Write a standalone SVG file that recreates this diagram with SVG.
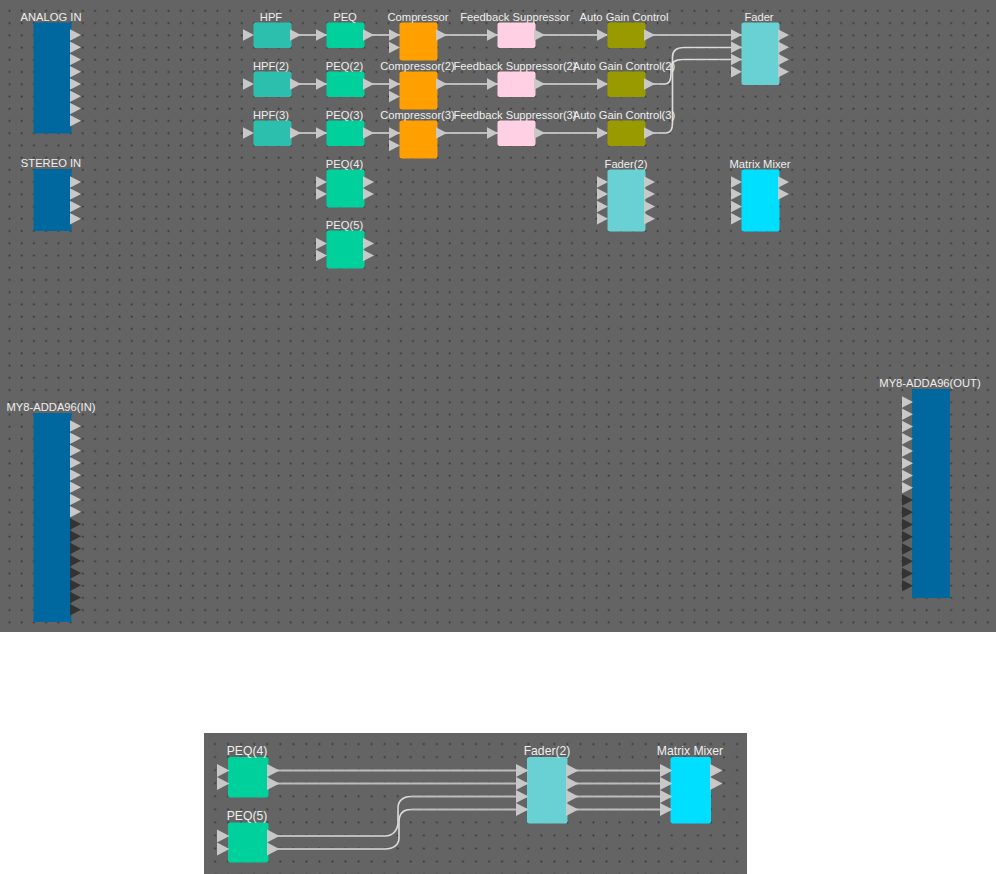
<svg xmlns="http://www.w3.org/2000/svg" width="996" height="874" viewBox="0 0 996 874">
<style>
.t{font-family:"Liberation Sans",Arial,sans-serif;font-size:11.2px;fill:#eeeeee;text-anchor:middle}
.b{font-size:12.2px}
.w{fill:none;stroke:#bdbdbd;stroke-width:2.2}
.c{fill:none;stroke:#dcdcdc;stroke-width:1.6}
.blue{fill:#00689f}.hpf{fill:#2dbfad}.peq{fill:#00d09b}.cmp{fill:#ff9f00}.fs{fill:#ffcfe3}.agc{fill:#999900}.fad{fill:#69d1d3}.mix{fill:#00dfff}
</style>
<defs>
<pattern id="d1" width="12.23" height="12.23" patternUnits="userSpaceOnUse" x="3.2" y="4.6"><rect x="5.4" y="5.4" width="1.7" height="1.7" fill="#333333"/></pattern>
<pattern id="d2" width="13.05" height="13.05" patternUnits="userSpaceOnUse" x="209" y="738"><rect x="5.2" y="5.2" width="1.7" height="1.7" fill="#333333"/></pattern>
<path id="p" d="M0-5.800L11 0L0 5.800Z" fill="#c8c8c8"/>
<path id="k" d="M0-5.800L11 0L0 5.800Z" fill="#333333"/>
<path id="q" d="M0-6.500L12.500 0L0 6.500Z" fill="#c8c8c8"/>
</defs>
<rect width="996" height="874" fill="#ffffff"/>
<rect width="996" height="632" fill="#646464"/>
<rect width="996" height="632" fill="url(#d1)"/>
<rect x="204" y="733" width="543" height="141" fill="#646464"/>
<rect x="204" y="733" width="543" height="141" fill="url(#d2)"/>
<g id="connectors">
<path class="w" d="M291 35H327M364 35H400M364 84H400M364 133H400M291 84H327M291 133H327M437 35H498M437 84H498M437 133H498M535 35H607M535 84H607M535 133H607M645 35H742"/>
<path class="c" d="M645 84H665C670 84 671 80 671 74V68C671 62 675 59.500 683 59.500H742"/>
<path class="c" d="M645 133H666C671 133 672.500 129 672.500 123V57C672.500 51 676 47.500 684 47.500H742"/>
<path class="w" d="M268 770.500H527M268 783.500H527M567 770.500H671M567 783.500H671M567 796.500H671M567 809.500H671M411 796.500H527M411 809.500H527M268 836H385M268 849H385"/>
<path class="c" d="M385 836C393 836 398 830 398 822V808C398 801 403 796.500 411 796.500"/>
<path class="c" d="M385 849C393 849 399 845 399 838V822C399 814 403 809.500 411 809.500"/>
</g>
<g id="analog-in"><rect class="blue" x="33.500" y="22.500" width="38" height="111"/><text class="t" x="51" y="21">ANALOG IN</text>
<use href="#p" x="70" y="35"/><use href="#p" x="70" y="47.300"/><use href="#p" x="70" y="59.500"/><use href="#p" x="70" y="71.800"/><use href="#p" x="70" y="84"/><use href="#p" x="70" y="96.300"/><use href="#p" x="70" y="108.500"/><use href="#p" x="70" y="120.800"/></g>
<g id="stereo-in"><rect class="blue" x="33.500" y="169" width="38" height="62"/><text class="t" x="51" y="167">STEREO IN</text>
<use href="#p" x="70" y="182"/><use href="#p" x="70" y="194"/><use href="#p" x="70" y="206.500"/><use href="#p" x="70" y="218.700"/></g>
<g id="hpf"><rect class="hpf" x="253.500" y="22.500" width="38" height="25.500" rx="2"/><text class="t" x="271" y="21">HPF</text><use href="#p" x="243" y="35"/><use href="#p" x="290" y="35"/></g>
<g id="hpf2"><rect class="hpf" x="253.500" y="71.500" width="38" height="25.500" rx="2"/><text class="t" x="271" y="70">HPF(2)</text><use href="#p" x="243" y="84"/><use href="#p" x="290" y="84"/></g>
<g id="hpf3"><rect class="hpf" x="253.500" y="120.500" width="38" height="25.500" rx="2"/><text class="t" x="271" y="119">HPF(3)</text><use href="#p" x="243" y="133"/><use href="#p" x="290" y="133"/></g>
<g id="peq"><rect class="peq" x="326.500" y="22.500" width="38" height="25.500" rx="2"/><text class="t" x="345" y="21">PEQ</text><use href="#p" x="316" y="35"/><use href="#p" x="363" y="35"/></g>
<g id="peq2"><rect class="peq" x="326.500" y="71.500" width="38" height="25.500" rx="2"/><text class="t" x="344.500" y="70">PEQ(2)</text><use href="#p" x="316" y="84"/><use href="#p" x="363" y="84"/></g>
<g id="peq3"><rect class="peq" x="326.500" y="120.500" width="38" height="25.500" rx="2"/><text class="t" x="344.500" y="119">PEQ(3)</text><use href="#p" x="316" y="133"/><use href="#p" x="363" y="133"/></g>
<g id="peq4"><rect class="peq" x="326.500" y="169.500" width="38" height="38" rx="2"/><text class="t" x="344.500" y="168">PEQ(4)</text><use href="#p" x="316" y="182"/><use href="#p" x="316" y="194"/><use href="#p" x="363" y="182"/><use href="#p" x="363" y="194"/></g>
<g id="peq5"><rect class="peq" x="326.500" y="230.500" width="38" height="38" rx="2"/><text class="t" x="344.500" y="229">PEQ(5)</text><use href="#p" x="316" y="243.500"/><use href="#p" x="316" y="255.500"/><use href="#p" x="363" y="243.500"/><use href="#p" x="363" y="255.500"/></g>
<g id="compressor"><rect class="cmp" x="399.500" y="22.500" width="38" height="38" rx="2"/><text class="t" x="418" y="21">Compressor</text><use href="#p" x="389" y="35"/><use href="#p" x="389" y="47.500"/><use href="#p" x="436" y="35"/></g>
<g id="compressor2"><rect class="cmp" x="399.500" y="71.500" width="38" height="38" rx="2"/><text class="t" x="417.500" y="70">Compressor(2)</text><use href="#p" x="389" y="84"/><use href="#p" x="389" y="96.500"/><use href="#p" x="436" y="84"/></g>
<g id="compressor3"><rect class="cmp" x="399.500" y="120.500" width="38" height="38" rx="2"/><text class="t" x="417.500" y="119">Compressor(3)</text><use href="#p" x="389" y="133"/><use href="#p" x="389" y="145.500"/><use href="#p" x="436" y="133"/></g>
<g id="feedback"><rect class="fs" x="497.500" y="22.500" width="38" height="25.500" rx="2"/><text class="t" x="515" y="21">Feedback Suppressor</text><use href="#p" x="487" y="35"/><use href="#p" x="534" y="35"/></g>
<g id="feedback2"><rect class="fs" x="497.500" y="71.500" width="38" height="25.500" rx="2"/><text class="t" x="515" y="70">Feedback Suppressor(2)</text><use href="#p" x="487" y="84"/><use href="#p" x="534" y="84"/></g>
<g id="feedback3"><rect class="fs" x="497.500" y="120.500" width="38" height="25.500" rx="2"/><text class="t" x="515" y="119">Feedback Suppressor(3)</text><use href="#p" x="487" y="133"/><use href="#p" x="534" y="133"/></g>
<g id="agc"><rect class="agc" x="607.500" y="22.500" width="38" height="25.500" rx="2"/><text class="t" x="624" y="21">Auto Gain Control</text><use href="#p" x="597" y="35"/><use href="#p" x="644" y="35"/></g>
<g id="agc2"><rect class="agc" x="607.500" y="71.500" width="38" height="25.500" rx="2"/><text class="t" x="624" y="70">Auto Gain Control(2)</text><use href="#p" x="597" y="84"/><use href="#p" x="644" y="84"/></g>
<g id="agc3"><rect class="agc" x="607.500" y="120.500" width="38" height="25.500" rx="2"/><text class="t" x="624" y="119">Auto Gain Control(3)</text><use href="#p" x="597" y="133"/><use href="#p" x="644" y="133"/></g>
<g id="fader"><rect class="fad" x="741.500" y="22.500" width="38" height="62.500" rx="2"/><text class="t" x="759" y="21">Fader</text>
<use href="#p" x="731" y="35"/><use href="#p" x="731" y="47.300"/><use href="#p" x="731" y="59.500"/><use href="#p" x="731" y="71.800"/><use href="#p" x="778" y="35"/><use href="#p" x="778" y="47.300"/><use href="#p" x="778" y="59.500"/><use href="#p" x="778" y="71.800"/></g>
<g id="fader2"><rect class="fad" x="607.500" y="169.500" width="38" height="62" rx="2"/><text class="t" x="626" y="168">Fader(2)</text>
<use href="#p" x="597" y="182"/><use href="#p" x="597" y="194"/><use href="#p" x="597" y="206.500"/><use href="#p" x="597" y="218.700"/><use href="#p" x="644" y="182"/><use href="#p" x="644" y="194"/><use href="#p" x="644" y="206.500"/><use href="#p" x="644" y="218.700"/></g>
<g id="matrix"><rect class="mix" x="741.500" y="169.500" width="38" height="62" rx="2"/><text class="t" x="760" y="168">Matrix Mixer</text>
<use href="#p" x="731" y="182"/><use href="#p" x="731" y="194"/><use href="#p" x="731" y="206.500"/><use href="#p" x="731" y="218.700"/><use href="#p" x="778" y="182"/><use href="#p" x="778" y="194"/></g>
<g id="my8-in"><rect class="blue" x="33.500" y="413" width="38" height="209"/><text class="t" x="51" y="411">MY8-ADDA96(IN)</text>
<use href="#p" x="70" y="426"/><use href="#p" x="70" y="438.200"/><use href="#p" x="70" y="450.500"/><use href="#p" x="70" y="462.700"/><use href="#p" x="70" y="475"/><use href="#p" x="70" y="487.200"/><use href="#p" x="70" y="499.500"/><use href="#p" x="70" y="511.700"/>
<use href="#k" x="70" y="524"/><use href="#k" x="70" y="536.200"/><use href="#k" x="70" y="548.500"/><use href="#k" x="70" y="560.700"/><use href="#k" x="70" y="573"/><use href="#k" x="70" y="585.200"/><use href="#k" x="70" y="597.500"/><use href="#k" x="70" y="609.700"/></g>
<g id="my8-out"><rect class="blue" x="912" y="389" width="38" height="209"/><text class="t" x="930" y="387">MY8-ADDA96(OUT)</text>
<use href="#p" x="902" y="402"/><use href="#p" x="902" y="414.200"/><use href="#p" x="902" y="426.500"/><use href="#p" x="902" y="438.700"/><use href="#p" x="902" y="451"/><use href="#p" x="902" y="463.200"/><use href="#p" x="902" y="475.500"/><use href="#p" x="902" y="487.700"/>
<use href="#k" x="902" y="500"/><use href="#k" x="902" y="512.200"/><use href="#k" x="902" y="524.500"/><use href="#k" x="902" y="536.700"/><use href="#k" x="902" y="549"/><use href="#k" x="902" y="561.200"/><use href="#k" x="902" y="573.500"/><use href="#k" x="902" y="585.700"/></g>
<g id="b-peq4"><rect class="peq" x="228" y="757" width="40.500" height="40.500" rx="2"/><text class="t b" x="247" y="755">PEQ(4)</text><use href="#q" x="217" y="770.500"/><use href="#q" x="217" y="783.500"/><use href="#q" x="267" y="770.500"/><use href="#q" x="267" y="783.500"/></g>
<g id="b-peq5"><rect class="peq" x="228" y="822.500" width="40.500" height="40" rx="2"/><text class="t b" x="247" y="820">PEQ(5)</text><use href="#q" x="217" y="836"/><use href="#q" x="217" y="849"/><use href="#q" x="267" y="836"/><use href="#q" x="267" y="849"/></g>
<g id="b-fader2"><rect class="fad" x="527" y="757" width="40.500" height="66.500" rx="2"/><text class="t b" x="547" y="755">Fader(2)</text><use href="#q" x="516" y="770.500"/><use href="#q" x="516" y="783.500"/><use href="#q" x="516" y="796.500"/><use href="#q" x="516" y="809.500"/><use href="#q" x="566" y="770.500"/><use href="#q" x="566" y="783.500"/><use href="#q" x="566" y="796.500"/><use href="#q" x="566" y="809.500"/></g>
<g id="b-matrix"><rect class="mix" x="670.500" y="757" width="40.500" height="66.500" rx="2"/><text class="t b" x="690" y="755">Matrix Mixer</text><use href="#q" x="660" y="770.500"/><use href="#q" x="660" y="783.500"/><use href="#q" x="660" y="796.500"/><use href="#q" x="660" y="809.500"/><use href="#q" x="710" y="770.500"/><use href="#q" x="710" y="783.500"/></g>
</svg>
